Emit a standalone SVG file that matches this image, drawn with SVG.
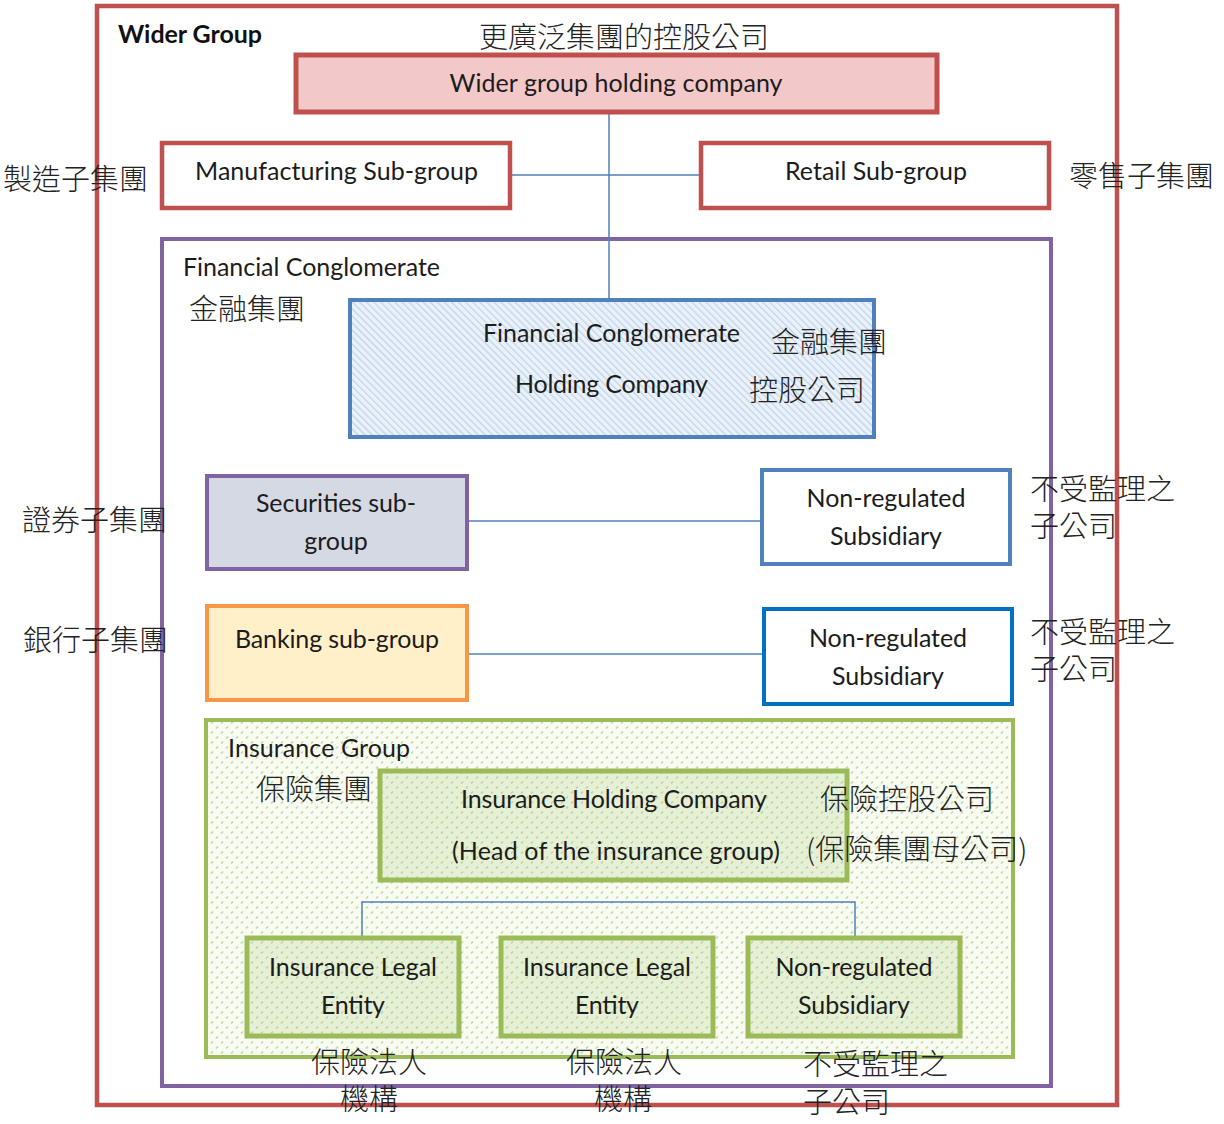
<svg xmlns="http://www.w3.org/2000/svg" width="1224" height="1124" viewBox="0 0 1224 1124">
  <style>
    .en { font-family: Lato, "Open Sans", "Liberation Sans", sans-serif; font-size: 25px; fill: #1c1c1c; }
    .enb { font-family: Lato, "Open Sans", "Liberation Sans", sans-serif; font-size: 25px; font-weight: bold; fill: #111; }
    .zh { font-family: "Noto Sans CJK TC", "Noto Sans CJK SC", sans-serif; font-size: 29px; fill: #222; font-weight: 300; }
    .mid { text-anchor: middle; }
    .red { fill: none; stroke: #C0504D; stroke-width: 4.5; }
    .conn { fill: none; stroke: #4F81BD; stroke-width: 1.5; }
  </style>
  <defs>
    <pattern id="hatchBlue" width="5" height="5" patternUnits="userSpaceOnUse" patternTransform="rotate(-45)">
      <rect width="5" height="5" fill="#EAF1F9"/>
      <line x1="0" y1="0" x2="0" y2="5" stroke="#BFD2EA" stroke-width="2.4"/>
    </pattern>
    <pattern id="dotsGreen" width="10" height="10" patternUnits="userSpaceOnUse">
      <rect width="10" height="10" fill="#F8FBF2"/>
      <line x1="1" y1="3.5" x2="3" y2="1.5" stroke="#C2D899" stroke-width="1.6"/>
      <line x1="6" y1="8.5" x2="8" y2="6.5" stroke="#C2D899" stroke-width="1.6"/>
    </pattern>
    <pattern id="dotsGreenBox" width="10" height="10" patternUnits="userSpaceOnUse">
      <rect width="10" height="10" fill="#E6F0D6"/>
      <line x1="1" y1="3.5" x2="3" y2="1.5" stroke="#BDD494" stroke-width="1.6"/>
      <line x1="6" y1="8.5" x2="8" y2="6.5" stroke="#BDD494" stroke-width="1.6"/>
    </pattern>
  </defs>

  <rect width="1224" height="1124" fill="#fff"/>

  <!-- wider group frame -->
  <g id="wider-group">
    <rect class="red" x="97" y="6" width="1020" height="1099"/>
    <text class="enb" x="118" y="43" textLength="144">Wider Group</text>
  </g>

  <!-- financial conglomerate frame -->
  <g id="financial-conglomerate">
    <rect x="162" y="239" width="889" height="847" fill="none" stroke="#8064A2" stroke-width="4"/>
    <text class="en" x="183" y="276" textLength="257">Financial Conglomerate</text>
    <text class="zh" x="189" y="320">金融集團</text>
  </g>

  <!-- connectors -->
  <g id="connectors">
    <line class="conn" x1="609" y1="112" x2="609" y2="300"/>
    <line class="conn" x1="510" y1="175" x2="701" y2="175"/>
    <line class="conn" x1="467" y1="521" x2="762" y2="521"/>
    <line class="conn" x1="467" y1="654" x2="764" y2="654"/>
  </g>

  <g id="wider-holding">
    <text class="zh" x="479" y="48">更廣泛集團的控股公司</text>
    <rect x="296" y="55" width="641" height="57" fill="#F2C8C8" stroke="#C0504D" stroke-width="5"/>
    <text class="en mid" x="616" y="92" textLength="333">Wider group holding company</text>
  </g>

  <g id="manufacturing">
    <rect x="162" y="143" width="348" height="65" fill="#fff" stroke="#C0504D" stroke-width="4.5"/>
    <text class="en" x="195" y="180" textLength="283">Manufacturing Sub-group</text>
    <text class="zh" x="3" y="190">製造子集團</text>
  </g>

  <g id="retail">
    <rect x="701" y="143" width="348" height="65" fill="#fff" stroke="#C0504D" stroke-width="4.5"/>
    <text class="en" x="785" y="180" textLength="182">Retail Sub-group</text>
    <text class="zh" x="1069" y="187">零售子集團</text>
  </g>

  <g id="fc-holding">
    <rect x="350" y="300" width="524" height="137" fill="url(#hatchBlue)" stroke="#4F81BD" stroke-width="4"/>
    <text class="en" x="483" y="342" textLength="257">Financial Conglomerate</text>
    <text class="en" x="515" y="393" textLength="193">Holding Company</text>
    <text class="zh" x="771" y="353">金融集團</text>
    <text class="zh" x="749" y="401">控股公司</text>
  </g>

  <g id="securities">
    <rect x="207" y="476" width="260" height="93" fill="#D5D9E4" stroke="#8064A2" stroke-width="4"/>
    <text class="en mid" x="336" y="512" textLength="160">Securities sub-</text>
    <text class="en mid" x="336" y="550">group</text>
    <text class="zh" x="22" y="531">證券子集團</text>
  </g>

  <g id="nonreg-1">
    <rect x="762" y="470" width="248" height="94" fill="#fff" stroke="#4F81BD" stroke-width="4"/>
    <text class="en mid" x="886" y="507" textLength="159">Non-regulated</text>
    <text class="en mid" x="886" y="545" textLength="112">Subsidiary</text>
    <text class="zh" x="1030" y="500">不受監理之</text>
    <text class="zh" x="1030" y="537">子公司</text>
  </g>

  <g id="banking">
    <rect x="207" y="606" width="260" height="94" fill="#FFF0CA" stroke="#F79646" stroke-width="4"/>
    <text class="en mid" x="337" y="648" textLength="204">Banking sub-group</text>
    <text class="zh" x="23" y="651">銀行子集團</text>
  </g>

  <g id="nonreg-2">
    <rect x="764" y="609" width="248" height="95" fill="#fff" stroke="#0070C0" stroke-width="4"/>
    <text class="en mid" x="888" y="647" textLength="158">Non-regulated</text>
    <text class="en mid" x="888" y="685" textLength="112">Subsidiary</text>
    <text class="zh" x="1030" y="643">不受監理之</text>
    <text class="zh" x="1030" y="680">子公司</text>
  </g>

  <g id="insurance-group">
    <rect x="206" y="720" width="807" height="337" fill="url(#dotsGreen)" stroke="#9BBB59" stroke-width="4"/>
    <text class="en" x="228" y="757" textLength="182">Insurance Group</text>
    <text class="zh" x="256" y="800">保險集團</text>
  </g>

  <!-- branch from the insurance holding company to its subsidiaries -->
  <g id="insurance-connectors">
    <polyline class="conn" points="362,938 362,902 855,902 855,938"/>
  </g>

  <g id="insurance-holding">
    <rect x="380" y="771" width="467" height="109" fill="url(#dotsGreenBox)" stroke="#9BBB59" stroke-width="5"/>
    <text class="en" x="461" y="808" textLength="306">Insurance Holding Company</text>
    <text class="en" x="452" y="860" textLength="328">(Head of the insurance group)</text>
    <text class="zh" x="820" y="810">保險控股公司</text>
    <text class="zh" x="806" y="860">(保險集團母公司)</text>
  </g>

  <g id="legal-entity-1">
    <rect x="247" y="938" width="212" height="98" fill="url(#dotsGreenBox)" stroke="#9BBB59" stroke-width="5"/>
    <text class="en mid" x="353" y="976" textLength="168">Insurance Legal</text>
    <text class="en mid" x="353" y="1014" textLength="64">Entity</text>
    <text class="zh" x="311" y="1073">保險法人</text>
    <text class="zh" x="340" y="1110">機構</text>
  </g>

  <g id="legal-entity-2">
    <rect x="501" y="938" width="212" height="98" fill="url(#dotsGreenBox)" stroke="#9BBB59" stroke-width="5"/>
    <text class="en mid" x="607" y="976" textLength="168">Insurance Legal</text>
    <text class="en mid" x="607" y="1014" textLength="64">Entity</text>
    <text class="zh" x="566" y="1073">保險法人</text>
    <text class="zh" x="594" y="1110">機構</text>
  </g>

  <g id="nonreg-insurance">
    <rect x="748" y="938" width="212" height="98" fill="url(#dotsGreenBox)" stroke="#9BBB59" stroke-width="5"/>
    <text class="en mid" x="854" y="976" textLength="157">Non-regulated</text>
    <text class="en mid" x="854" y="1014" textLength="112">Subsidiary</text>
    <text class="zh" x="803" y="1075">不受監理之</text>
    <text class="zh" x="803" y="1113">子公司</text>
  </g>
</svg>
